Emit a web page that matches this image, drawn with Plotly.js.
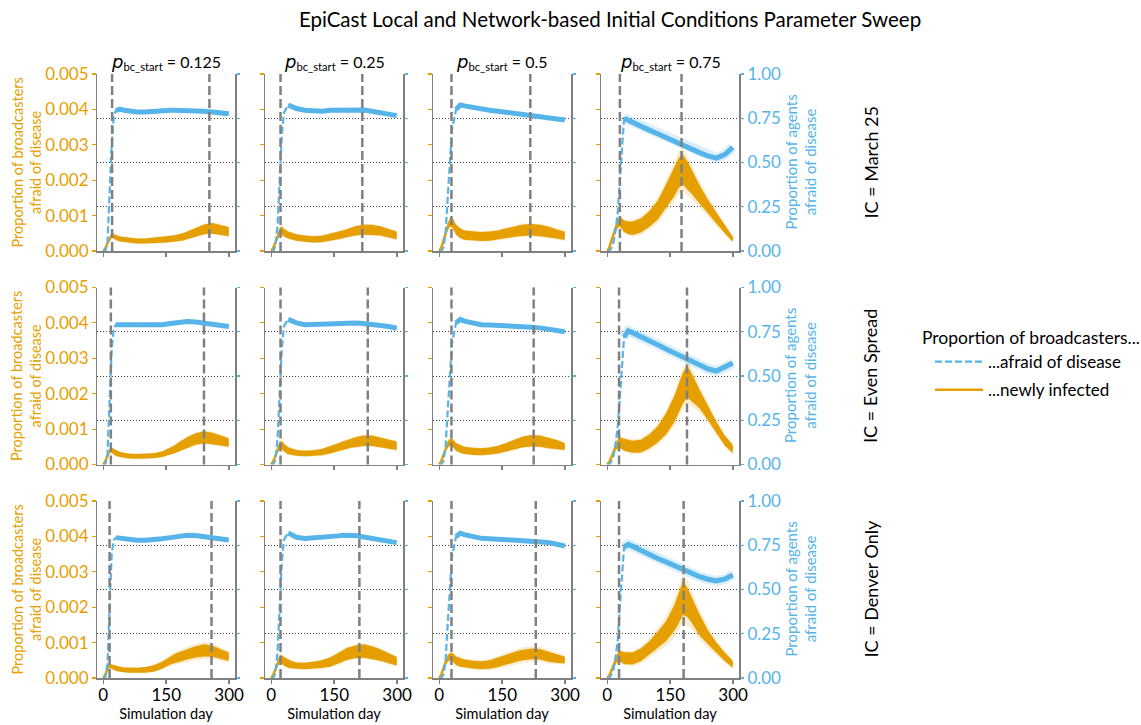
<!DOCTYPE html>
<html><head><meta charset="utf-8">
<script src="https://cdn.plot.ly/plotly-3.0.1.min.js"></script>
<style>body{margin:0;background:#fff}</style>
</head><body>
<div id="chart" style="width:1141px;height:725px"></div>
<script>
// ---------------- DATA ----------------
const days = [0,5,10,15,20,25,30,40,50,60,80,100,120,140,160,170,180,190,200,220,240,260,280,299];
const pbcStart = ['0.125','0.25','0.5','0.75'];
const icLabels = ['March 25','Even Spread','Denver Only'];

// proportion afraid (right axis, 0-1)
const afraid_r1c1 = [0,0,0.05,0.3,0.6,0.76,0.795,0.80,0.795,0.79,0.785,0.785,0.79,0.79,0.795,0.795,0.795,0.795,0.795,0.79,0.79,0.785,0.78,0.775];
const afraid_r1c2 = [0,0,0.03,0.15,0.4,0.65,0.78,0.825,0.815,0.805,0.795,0.79,0.79,0.795,0.797,0.798,0.80,0.80,0.80,0.797,0.79,0.78,0.772,0.765];
const afraid_r1c3 = [0,0,0.02,0.1,0.3,0.5,0.68,0.8,0.825,0.82,0.81,0.80,0.795,0.79,0.783,0.78,0.777,0.775,0.772,0.768,0.762,0.755,0.748,0.74];
const afraid_r1c4 = [0,0,0.02,0.05,0.12,0.22,0.4,0.75,0.74,0.73,0.705,0.683,0.662,0.64,0.617,0.607,0.596,0.586,0.575,0.556,0.537,0.525,0.545,0.585];
const afraid_r2c1 = [0,0,0.06,0.35,0.65,0.77,0.79,0.79,0.787,0.785,0.785,0.785,0.787,0.79,0.797,0.80,0.803,0.806,0.808,0.805,0.797,0.79,0.785,0.78];
const afraid_r2c2 = [0,0,0.03,0.15,0.4,0.65,0.78,0.82,0.81,0.8,0.79,0.79,0.79,0.793,0.795,0.797,0.798,0.80,0.80,0.797,0.793,0.788,0.78,0.77];
const afraid_r2c3 = [0,0,0.02,0.1,0.3,0.5,0.68,0.8,0.82,0.81,0.80,0.79,0.788,0.787,0.785,0.783,0.782,0.78,0.779,0.776,0.772,0.766,0.758,0.75];
const afraid_r2c4 = [0,0,0.02,0.05,0.12,0.22,0.38,0.72,0.755,0.745,0.724,0.70,0.677,0.653,0.63,0.618,0.607,0.597,0.586,0.563,0.54,0.528,0.548,0.573];
const afraid_r3c1 = [0,0,0.08,0.4,0.7,0.78,0.793,0.79,0.785,0.78,0.778,0.778,0.78,0.787,0.793,0.797,0.80,0.804,0.806,0.805,0.80,0.795,0.79,0.78];
const afraid_r3c2 = [0,0,0.03,0.15,0.4,0.65,0.78,0.82,0.805,0.795,0.788,0.79,0.795,0.80,0.803,0.806,0.808,0.806,0.805,0.797,0.79,0.785,0.775,0.765];
const afraid_r3c3 = [0,0,0.02,0.1,0.3,0.5,0.68,0.8,0.818,0.81,0.8,0.789,0.787,0.785,0.783,0.781,0.78,0.779,0.778,0.776,0.773,0.766,0.756,0.746];
const afraid_r3c4 = [0,0,0.02,0.05,0.12,0.22,0.4,0.74,0.755,0.745,0.72,0.697,0.675,0.656,0.635,0.624,0.612,0.602,0.59,0.572,0.558,0.549,0.558,0.582];

// newly infected (left axis), in thousandths
const infected_r1c1 = [0,0.08,0.22,0.35,0.45,0.42,0.38,0.34,0.32,0.3,0.28,0.28,0.29,0.31,0.34,0.355,0.37,0.4,0.44,0.53,0.61,0.64,0.6,0.55];
const infected_r1c2 = [0,0.1,0.25,0.42,0.55,0.58,0.52,0.45,0.41,0.38,0.35,0.33,0.34,0.38,0.44,0.47,0.51,0.54,0.57,0.6,0.6,0.57,0.5,0.44];
const infected_r1c3 = [0,0.1,0.3,0.5,0.68,0.8,0.82,0.6,0.5,0.45,0.42,0.41,0.42,0.45,0.5,0.52,0.55,0.57,0.59,0.6,0.58,0.54,0.48,0.43];
const infected_r1c4 = [0,0.1,0.3,0.5,0.65,0.77,0.83,0.7,0.65,0.64,0.72,0.9,1.15,1.55,1.95,2.2,2.3,2.15,1.98,1.6,1.25,0.92,0.62,0.33];
const infected_r2c1 = [0,0.1,0.25,0.38,0.4,0.36,0.32,0.28,0.26,0.24,0.23,0.23,0.25,0.29,0.37,0.43,0.5,0.56,0.62,0.72,0.77,0.74,0.68,0.62];
const infected_r2c2 = [0,0.1,0.25,0.42,0.55,0.55,0.48,0.39,0.35,0.33,0.31,0.32,0.35,0.41,0.49,0.53,0.57,0.6,0.63,0.67,0.67,0.62,0.57,0.53];
const infected_r2c3 = [0,0.1,0.28,0.45,0.56,0.62,0.63,0.5,0.44,0.4,0.37,0.36,0.38,0.42,0.49,0.53,0.58,0.61,0.64,0.67,0.66,0.61,0.56,0.51];
const infected_r2c4 = [0,0.08,0.22,0.38,0.5,0.58,0.62,0.56,0.52,0.5,0.52,0.65,0.85,1.15,1.57,1.85,2.15,2.35,2.2,1.85,1.45,1.05,0.68,0.44];
const infected_r3c1 = [0,0.1,0.25,0.35,0.32,0.29,0.27,0.25,0.23,0.22,0.22,0.23,0.27,0.36,0.5,0.55,0.59,0.63,0.67,0.74,0.78,0.76,0.67,0.6];
const infected_r3c2 = [0,0.1,0.25,0.42,0.55,0.52,0.47,0.41,0.37,0.35,0.34,0.36,0.39,0.45,0.55,0.62,0.68,0.71,0.74,0.76,0.72,0.65,0.56,0.47];
const infected_r3c3 = [0,0.1,0.28,0.45,0.55,0.6,0.6,0.49,0.44,0.41,0.38,0.36,0.38,0.44,0.52,0.56,0.6,0.63,0.65,0.68,0.67,0.6,0.55,0.51];
const infected_r3c4 = [0,0.08,0.22,0.38,0.5,0.58,0.62,0.56,0.55,0.55,0.65,0.85,1.08,1.32,1.7,1.95,2.25,2.15,1.95,1.5,1.15,0.85,0.6,0.39];

// half-width of day-to-day oscillation of newly infected (thousandths)
const swing_r1c1 = [0,0.02,0.04,0.05,0.06,0.07,0.07,0.07,0.07,0.07,0.07,0.07,0.08,0.08,0.09,0.09,0.1,0.1,0.11,0.12,0.14,0.15,0.14,0.13];
const swing_r1c2 = [0,0.02,0.05,0.07,0.1,0.12,0.11,0.1,0.1,0.09,0.09,0.09,0.09,0.1,0.11,0.11,0.12,0.12,0.13,0.14,0.14,0.13,0.12,0.11];
const swing_r1c3 = [0,0.03,0.06,0.08,0.1,0.12,0.14,0.14,0.14,0.13,0.13,0.13,0.13,0.13,0.14,0.14,0.15,0.15,0.16,0.16,0.16,0.15,0.13,0.12];
const swing_r1c4 = [0,0.03,0.06,0.08,0.1,0.12,0.14,0.16,0.18,0.19,0.2,0.22,0.27,0.33,0.4,0.42,0.43,0.4,0.35,0.26,0.2,0.16,0.12,0.07];
const swing_r2c1 = [0,0.02,0.04,0.05,0.07,0.08,0.08,0.07,0.07,0.07,0.07,0.07,0.07,0.08,0.1,0.11,0.13,0.14,0.15,0.16,0.17,0.16,0.14,0.12];
const swing_r2c2 = [0,0.02,0.05,0.07,0.1,0.11,0.11,0.1,0.09,0.08,0.08,0.08,0.09,0.1,0.11,0.12,0.13,0.13,0.14,0.15,0.15,0.14,0.13,0.12];
const swing_r2c3 = [0,0.02,0.05,0.07,0.09,0.1,0.11,0.11,0.11,0.1,0.1,0.1,0.1,0.11,0.12,0.13,0.14,0.14,0.15,0.16,0.16,0.15,0.13,0.1];
const swing_r2c4 = [0,0.03,0.05,0.07,0.1,0.13,0.15,0.17,0.17,0.17,0.18,0.2,0.23,0.3,0.37,0.41,0.44,0.45,0.4,0.26,0.2,0.16,0.14,0.12];
const swing_r3c1 = [0,0.02,0.04,0.05,0.06,0.07,0.07,0.07,0.07,0.07,0.07,0.08,0.09,0.1,0.12,0.13,0.14,0.14,0.15,0.16,0.17,0.16,0.14,0.12];
const swing_r3c2 = [0,0.02,0.05,0.07,0.1,0.12,0.12,0.12,0.1,0.09,0.09,0.1,0.11,0.13,0.15,0.16,0.17,0.17,0.18,0.19,0.18,0.16,0.14,0.12];
const swing_r3c3 = [0,0.02,0.05,0.07,0.09,0.1,0.11,0.12,0.12,0.11,0.11,0.11,0.12,0.13,0.14,0.14,0.15,0.15,0.15,0.15,0.15,0.14,0.12,0.1];
const swing_r3c4 = [0,0.03,0.05,0.07,0.1,0.13,0.15,0.17,0.17,0.17,0.18,0.19,0.23,0.28,0.36,0.42,0.47,0.42,0.36,0.3,0.2,0.15,0.12,0.1];

// half-width of confidence band of newly infected (thousandths)
const ci_r1c1 = [0,0.03,0.05,0.06,0.08,0.09,0.09,0.09,0.09,0.09,0.09,0.09,0.1,0.1,0.11,0.11,0.12,0.12,0.13,0.14,0.16,0.17,0.16,0.15];
const ci_r1c2 = [0,0.03,0.06,0.09,0.12,0.14,0.13,0.12,0.12,0.11,0.11,0.11,0.11,0.12,0.13,0.13,0.14,0.14,0.15,0.16,0.16,0.15,0.14,0.13];
const ci_r1c3 = [0,0.04,0.07,0.1,0.12,0.14,0.16,0.16,0.16,0.15,0.15,0.15,0.15,0.16,0.17,0.17,0.18,0.18,0.19,0.19,0.19,0.18,0.16,0.15];
const ci_r1c4 = [0,0.04,0.08,0.1,0.13,0.15,0.17,0.2,0.22,0.24,0.27,0.3,0.37,0.45,0.55,0.6,0.62,0.57,0.5,0.38,0.3,0.22,0.16,0.1];
const ci_r2c1 = [0,0.03,0.05,0.06,0.08,0.09,0.09,0.08,0.08,0.08,0.08,0.08,0.08,0.1,0.12,0.13,0.15,0.16,0.18,0.19,0.2,0.19,0.17,0.15];
const ci_r2c2 = [0,0.03,0.06,0.09,0.12,0.13,0.13,0.12,0.11,0.1,0.1,0.1,0.11,0.12,0.13,0.14,0.15,0.15,0.16,0.17,0.17,0.16,0.15,0.14];
const ci_r2c3 = [0,0.03,0.06,0.09,0.11,0.12,0.13,0.13,0.13,0.12,0.12,0.12,0.12,0.13,0.14,0.15,0.16,0.16,0.17,0.18,0.18,0.17,0.15,0.12];
const ci_r2c4 = [0,0.04,0.07,0.1,0.13,0.16,0.18,0.2,0.21,0.21,0.23,0.26,0.3,0.38,0.47,0.52,0.57,0.6,0.55,0.38,0.28,0.22,0.18,0.15];
const ci_r3c1 = [0,0.03,0.05,0.06,0.07,0.08,0.08,0.08,0.08,0.08,0.08,0.09,0.11,0.13,0.16,0.18,0.2,0.21,0.22,0.23,0.24,0.22,0.19,0.16];
const ci_r3c2 = [0,0.03,0.06,0.09,0.12,0.14,0.14,0.14,0.12,0.11,0.11,0.12,0.13,0.15,0.18,0.19,0.2,0.2,0.21,0.22,0.21,0.19,0.17,0.15];
const ci_r3c3 = [0,0.03,0.06,0.09,0.11,0.13,0.14,0.15,0.15,0.14,0.14,0.14,0.16,0.18,0.2,0.21,0.22,0.22,0.22,0.22,0.21,0.19,0.16,0.13];
const ci_r3c4 = [0,0.04,0.07,0.1,0.13,0.16,0.18,0.2,0.21,0.22,0.24,0.27,0.33,0.42,0.55,0.62,0.7,0.65,0.55,0.42,0.3,0.22,0.17,0.13];

// days marked with vertical dashed lines
const markDays = [
  [[21,253],[22,217],[29,217],[30,177]],
  [[18,240],[22,230],[29,225],[28,190]],
  [[15,258],[22,210],[29,230],[28,182]]
];

// ---------------- BUILD ----------------
const panelData = [
  [[afraid_r1c1,infected_r1c1,swing_r1c1,ci_r1c1],[afraid_r1c2,infected_r1c2,swing_r1c2,ci_r1c2],[afraid_r1c3,infected_r1c3,swing_r1c3,ci_r1c3],[afraid_r1c4,infected_r1c4,swing_r1c4,ci_r1c4]],
  [[afraid_r2c1,infected_r2c1,swing_r2c1,ci_r2c1],[afraid_r2c2,infected_r2c2,swing_r2c2,ci_r2c2],[afraid_r2c3,infected_r2c3,swing_r2c3,ci_r2c3],[afraid_r2c4,infected_r2c4,swing_r2c4,ci_r2c4]],
  [[afraid_r3c1,infected_r3c1,swing_r3c1,ci_r3c1],[afraid_r3c2,infected_r3c2,swing_r3c2,ci_r3c2],[afraid_r3c3,infected_r3c3,swing_r3c3,ci_r3c3],[afraid_r3c4,infected_r3c4,swing_r3c4,ci_r3c4]]
];

const W=1141, H=725;
const colLeft=[97,265,433,601], colW=138;
const rowTop=[74,287.5,501], rowH=177;
const ORANGE='#E69F00', BLUE='#56B4E9', GREY='#808080';
const FONT='Lato, "Open Sans", sans-serif';
const thickStart=[6,7,7,7]; // index in days where the blue plateau begins (styling)

const traces=[], shapes=[], annotations=[];
const layout={
  width:W,height:H,margin:{l:0,r:0,t:0,b:0},
  paper_bgcolor:'#fff',plot_bgcolor:'rgba(0,0,0,0)',
  font:{family:FONT,color:'#000'},
  title:{text:'EpiCast Local and Network-based Initial Conditions Parameter Sweep',
         font:{family:FONT,size:20.5,color:'#000'},x:610/W,xanchor:'center',y:1-20/H,yanchor:'middle',yref:'container'},
  showlegend:true,
  legend:{x:930/W,y:1-344/H,xanchor:'left',yanchor:'top',bgcolor:'rgba(0,0,0,0)',
          font:{family:FONT,size:17,color:'#000'},traceorder:'grouped',
          tracegroupgap:3,itemwidth:48},
  shapes:shapes,annotations:annotations
};
const m = v => v*0.001;

for(let r=0;r<3;r++){
  for(let c=0;c<4;c++){
    const k=r*4+c+1;
    const xa = k===1?'x':'x'+k;
    const yLid=2*k-1, yRid=2*k;
    const yL = yLid===1?'y':'y'+yLid;
    const yR = 'y'+yRid;
    const [afraid,inf,sw,ci]=panelData[r][c];
    const first = (k===1);

    // CI band
    traces.push({x:days,y:inf.map((v,i)=>m(Math.max(0,v-ci[i]))),xaxis:xa,yaxis:yL,type:'scatter',mode:'lines',
      line:{width:0,color:ORANGE},showlegend:false,hoverinfo:'skip'});
    traces.push({x:days,y:inf.map((v,i)=>m(v+ci[i])),xaxis:xa,yaxis:yL,type:'scatter',mode:'lines',
      line:{width:0,color:ORANGE},fill:'tonexty',fillcolor:'rgba(230,159,0,0.2)',showlegend:false,hoverinfo:'skip'});
    // oscillation band
    traces.push({x:days,y:inf.map((v,i)=>m(Math.max(0,v-sw[i]))),xaxis:xa,yaxis:yL,type:'scatter',mode:'lines',
      line:{width:0,color:ORANGE},showlegend:false,hoverinfo:'skip'});
    traces.push({x:days,y:inf.map((v,i)=>m(v+sw[i])),xaxis:xa,yaxis:yL,type:'scatter',mode:'lines',
      line:{width:0,color:ORANGE},fill:'tonexty',fillcolor:ORANGE,showlegend:false,hoverinfo:'skip'});
    // mean line
    traces.push({x:days,y:inf.map(m),xaxis:xa,yaxis:yL,type:'scatter',mode:'lines',
      line:{width:2.5,color:ORANGE},name:'...newly infected',legendgroup:'inf',legendrank:2,showlegend:first});

    // blue: faint band (col 4) + thick plateau + dashed line
    const s=thickStart[c];
    if(c===3){
      traces.push({x:days.slice(s),y:afraid.slice(s),xaxis:xa,yaxis:yR,type:'scatter',mode:'lines',
        line:{width:10,color:'rgba(86,180,233,0.22)'},showlegend:false,hoverinfo:'skip'});
    }
    traces.push({x:days.slice(s),y:afraid.slice(s),xaxis:xa,yaxis:yR,type:'scatter',mode:'lines',
      line:{width:5,color:BLUE},showlegend:false,hoverinfo:'skip'});
    traces.push({x:days,y:afraid,xaxis:xa,yaxis:yR,type:'scatter',mode:'lines',
      line:{width:2.2,color:BLUE,dash:'7px,3px'},name:'...afraid of disease',legendgroup:'afr',legendrank:1,showlegend:first});

    // vertical dashed markers
    markDays[r][c].forEach(d=>{
      shapes.push({type:'line',xref:xa,yref:yL+' domain',x0:d,x1:d,y0:0,y1:1,layer:'above',
        line:{color:GREY,width:2.5,dash:'9px,4px'}});
    });

    const xdom=[colLeft[c]/W,(colLeft[c]+colW)/W];
    const ydom=[1-(rowTop[r]+rowH)/H,1-rowTop[r]/H];
    const xaxis={
      domain:xdom,anchor:yL,range:[-15,314],tickvals:[0,150,300],ticktext:['0','150','300'],
      showticklabels:r===2,ticks:'outside',ticklen:4,tickwidth:1.5,tickcolor:GREY,ticklabelstandoff:-3,
      showline:true,linecolor:GREY,linewidth:1.5,showgrid:false,zeroline:false,
      tickfont:{family:FONT,size:17,color:'#000'}
    };
    if(r===2) xaxis.title={text:'Simulation day',font:{family:FONT,size:14.5,color:'#000'},standoff:2};
    layout['xaxis'+(k===1?'':k)]=xaxis;
    layout['yaxis'+(yLid===1?'':yLid)]={
      domain:ydom,anchor:xa,range:[0,0.005],tickvals:[0,0.001,0.002,0.003,0.004,0.005],
      ticktext:['0.000','0.001','0.002','0.003','0.004','0.005'],
      showticklabels:c===0,ticks:'outside',ticklen:3.5,tickwidth:1.2,tickcolor:ORANGE,
      showline:true,linecolor:GREY,linewidth:1.5,showgrid:false,zeroline:false,
      tickfont:{family:FONT,size:17,color:ORANGE}
    };
    layout['yaxis'+yRid]={
      overlaying:yL,side:'right',anchor:xa,range:[0,1],tickvals:[0,0.25,0.5,0.75,1],
      ticktext:['0.00','0.25','0.50','0.75','1.00'],
      showticklabels:c===3,ticks:'outside',ticklen:3.5,tickwidth:1.2,tickcolor:BLUE,
      showline:true,linecolor:GREY,linewidth:1.5,showgrid:true,gridcolor:'#444',gridwidth:1,griddash:'1px,2px',zeroline:false,
      tickfont:{family:FONT,size:17,color:BLUE}
    };
    if(c===0){
      annotations.push({text:'Proportion of broadcasters<br>afraid of disease',xref:'paper',yref:'paper',
        x:26/W,y:1-(rowTop[r]+rowH/2)/H,xanchor:'center',yanchor:'middle',textangle:-90,showarrow:false,
        font:{family:FONT,size:14.5,color:ORANGE}});
    }
    if(c===3){
      annotations.push({text:'Proportion of agents<br>afraid of disease',xref:'paper',yref:'paper',
        x:800/W,y:1-(rowTop[r]+rowH/2)/H,xanchor:'center',yanchor:'middle',textangle:-90,showarrow:false,
        font:{family:FONT,size:15,color:BLUE}});
    }
  }
}

annotations.push({text:'Proportion of broadcasters...',xref:'paper',yref:'paper',x:920/W,y:1-337/H,
  xanchor:'left',yanchor:'middle',showarrow:false,font:{family:FONT,size:17.5,color:'#000'}});
pbcStart.forEach((p,c)=>{
  annotations.push({text:'<i><span style="font-family:DejaVu Sans;font-size:18px">p</span></i><sub>bc_start</sub> = '+p,xref:'paper',yref:'paper',
    x:(colLeft[c]+colW/2)/W,y:1-62/H,xanchor:'center',yanchor:'middle',showarrow:false,
    font:{family:FONT,size:16,color:'#000'}});
});
icLabels.forEach((lab,r)=>{
  annotations.push({text:'IC = '+lab,xref:'paper',yref:'paper',x:870/W,y:1-(rowTop[r]+rowH/2)/H,
    xanchor:'center',yanchor:'middle',textangle:-90,showarrow:false,font:{family:FONT,size:18,color:'#000'}});
});

Plotly.newPlot('chart',traces,layout,{displayModeBar:false,staticPlot:true});
</script>
</body></html>
